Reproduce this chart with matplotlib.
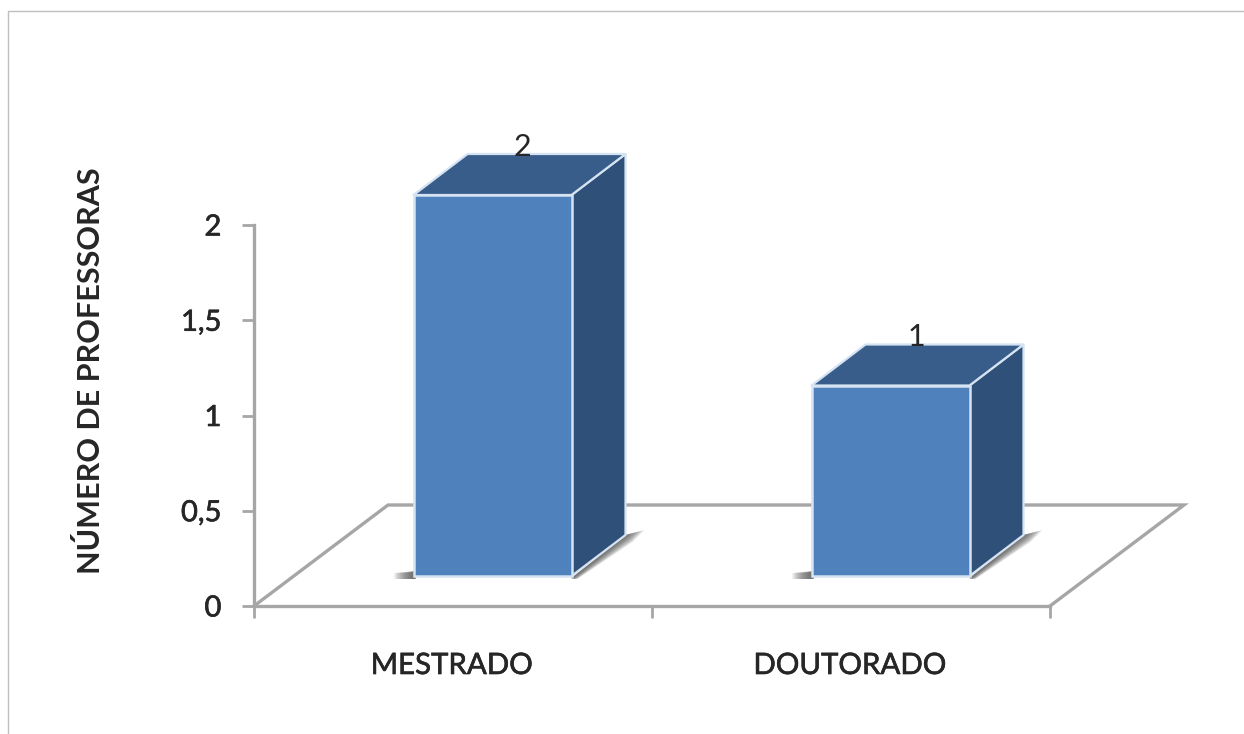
import matplotlib
matplotlib.use("Agg")
import matplotlib.pyplot as plt
import matplotlib.patheffects as pe
from matplotlib.patches import Polygon

categories = ["MESTRADO", "DOUTORADO"]
values = [2, 1]
y_ticks = [0, 0.5, 1, 1.5, 2]
y_tick_labels = ["0", "0,5", "1", "1,5", "2"]
y_title = "NÚMERO DE PROFESSORAS"

W, H = 1244, 734
L, R, B, T = 254, 1050, 606, 225   # plot box in pixels
fig = plt.figure(figsize=(W / 100, H / 100), dpi=100, facecolor="white")
ax = fig.add_axes([L / W, 1 - B / H, (R - L) / W, (B - T) / H])
ax.set_xlim(0, len(categories))
ax.set_ylim(0, 2)
ax.patch.set_alpha(0)
for s in ["top", "right"]:
    ax.spines[s].set_visible(False)
GREY = "#a6a6a6"
TEXT = "#262626"
heavy = [pe.withStroke(linewidth=0.45, foreground=TEXT)]
for s in ["left", "bottom"]:
    ax.spines[s].set_color(GREY)
    ax.spines[s].set_linewidth(2.4)

sx = len(categories) / (R - L)   # data per pixel, x
sy = 2 / (B - T)                 # data per pixel, y


def off(x, y, dx, dy):
    """Data point moved by a pixel offset (dy positive = upward)."""
    return (x + dx * sx, y + dy * sy)


# floor parallelogram
DX, DY = 134, 101
floor = [off(0, 0, 0, 0), off(0, 0, DX, DY), off(2, 0, DX, DY), off(2, 0, 0, 0)]
ax.plot(*zip(*floor), color=GREY, lw=2.4, clip_on=False, zorder=1, solid_joinstyle="miter")

# ticks
ax.set_xticks([0, 1, 2])
ax.set_xticklabels([])
ax.set_yticks(y_ticks)
ax.set_yticklabels(y_tick_labels, fontfamily="Lato", fontsize=21, color=TEXT,
                   path_effects=heavy)
ax.tick_params(axis="y", length=8.5, width=2, color=GREY, pad=15)
ax.tick_params(axis="x", length=8.5, width=2, color=GREY)
for c, name in zip(range(len(categories)), categories):
    ax.text(c + 0.5 - 0.004, -0.315, name, ha="center", va="center", fontfamily="Lato",
            fontsize=21.2, color=TEXT, path_effects=heavy)

ax.text(-0.41, 1.236, y_title, rotation=90, ha="center", va="center",
        fontfamily="Lato", fontsize=22, fontweight="bold", color=TEXT)

# 3-D columns
FRONT = "#4f81bd"
TOP = "#385d8a"
SIDE = "#2f5078"
EDGE = "#d5e3f2"
BW = 158 * sx
SHIFT = 39.5 * sx
LIFT = 30 * sy
BX, BY = 54, 41
N = 10
for i, v in enumerate(values):
    xc = i + 0.5 + SHIFT
    x0, x1 = xc - BW / 2, xc + BW / 2
    y0, y1 = LIFT, LIFT + v
    # soft contact shadows built from shrinking translucent layers
    for k in range(N):
        t = 1 - k / N
        ax.add_patch(Polygon([off(x0, y0, -19 * t, 3), off(x0, y0, 2, 5),
                              off(x0, y0, 2, -3), off(x0, y0, -19 * t, -3)],
                             fc="#4a4a4a", ec="none", alpha=0.13, clip_on=False, zorder=2))
        ax.add_patch(Polygon([off(x1, y0, 0, -2), off(x1, y0, BX, BY),
                              off(x1, y0, BX + 19 * t, BY + 5 * t),
                              off(x1, y0, BX + 7 * t, BY - 7 * t),
                              off(x1, y0, 6 * t, -3)],
                             fc="#4a4a4a", ec="none", alpha=0.13, clip_on=False, zorder=2))
    ax.add_patch(Polygon([(x1, y0), off(x1, y0, BX, BY), off(x1, y1, BX, BY), (x1, y1)],
                         fc=SIDE, ec=EDGE, lw=1.6, clip_on=False, zorder=3, joinstyle="round"))
    ax.add_patch(Polygon([(x0, y1), (x1, y1), off(x1, y1, BX, BY), off(x0, y1, BX, BY)],
                         fc=TOP, ec=EDGE, lw=1.6, clip_on=False, zorder=3, joinstyle="round"))
    ax.bar(xc, v, BW, bottom=y0, color=FRONT, edgecolor=EDGE, linewidth=1.8, clip_on=False, zorder=4)
    lx, ly = off(xc, y1, 29.5 if i == 0 else 26, 48)
    ax.text(lx, ly, str(v), ha="center", va="center", fontfamily="Lato", fontsize=22,
            color=TEXT, zorder=5, clip_on=False)

# outer frame of the picture (top and left only)
fig.add_artist(plt.Line2D([8 / W, 8 / W, 1], [0, 1 - 11 / H, 1 - 11 / H], color="#bfbfbf", lw=1))

fig.savefig("out.png", dpi=100)
